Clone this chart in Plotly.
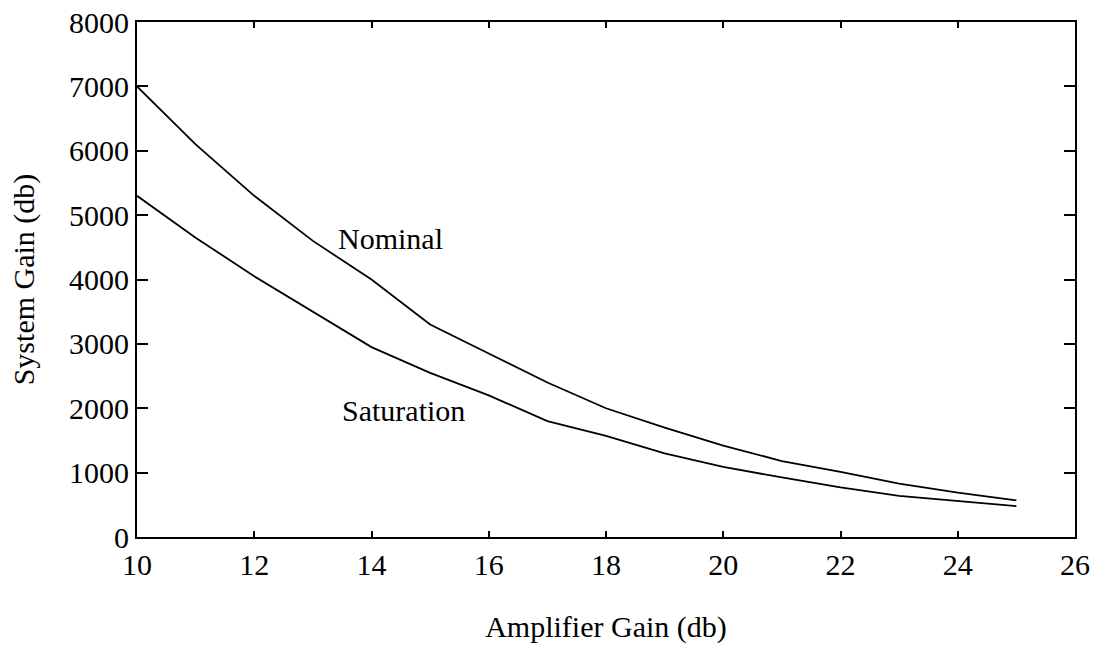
import plotly.graph_objects as go

amp_gain = [10, 11, 12, 13, 14, 15, 16, 17, 18, 19, 20, 21, 22, 23, 24, 25]
nominal = [7000, 6100, 5300, 4600, 4000, 3300, 2850, 2400, 2000, 1700, 1420, 1180, 1010, 830, 690, 570]
saturation = [5300, 4650, 4050, 3500, 2950, 2550, 2200, 1800, 1570, 1300, 1090, 925, 770, 640, 560, 480]

x_ticks = [10, 12, 14, 16, 18, 20, 22, 24, 26]
y_ticks = [0, 1000, 2000, 3000, 4000, 5000, 6000, 7000, 8000]

FONT = "Liberation Serif, Times New Roman, serif"
FS = 30

fig = go.Figure()
fig.add_trace(go.Scatter(x=amp_gain, y=nominal, mode="lines", name="Nominal",
                         line=dict(color="black", width=1.8)))
fig.add_trace(go.Scatter(x=amp_gain, y=saturation, mode="lines", name="Saturation",
                         line=dict(color="black", width=1.8)))

fig.add_annotation(x=14.32, y=4640, text="Nominal", showarrow=False,
                   font=dict(family=FONT, size=FS, color="black"))
fig.add_annotation(x=14.55, y=1970, text="Saturation", showarrow=False,
                   font=dict(family=FONT, size=FS, color="black"))

axis_common = dict(showline=True, linecolor="black", linewidth=2, mirror="allticks",
                   ticks="inside", tickcolor="black", tickwidth=2, showgrid=False,
                   zeroline=False, automargin=False,
                   tickfont=dict(family=FONT, size=FS, color="black"))

fig.update_xaxes(range=[10, 26], tickvals=x_ticks, ticklen=6, ticklabelstandoff=0,
                 title=dict(text="Amplifier Gain (db)", font=dict(family=FONT, size=FS, color="black"), standoff=36),
                 **axis_common)
fig.update_yaxes(range=[0, 8000], tickvals=y_ticks, ticklen=11,
                 title=dict(text="System Gain (db)", font=dict(family=FONT, size=FS, color="black"), standoff=26),
                 **axis_common)

fig.update_layout(width=1098, height=647, margin=dict(l=137, r=23, t=22, b=110),
                  plot_bgcolor="white", paper_bgcolor="white", showlegend=False)

fig.write_html("out.html")
